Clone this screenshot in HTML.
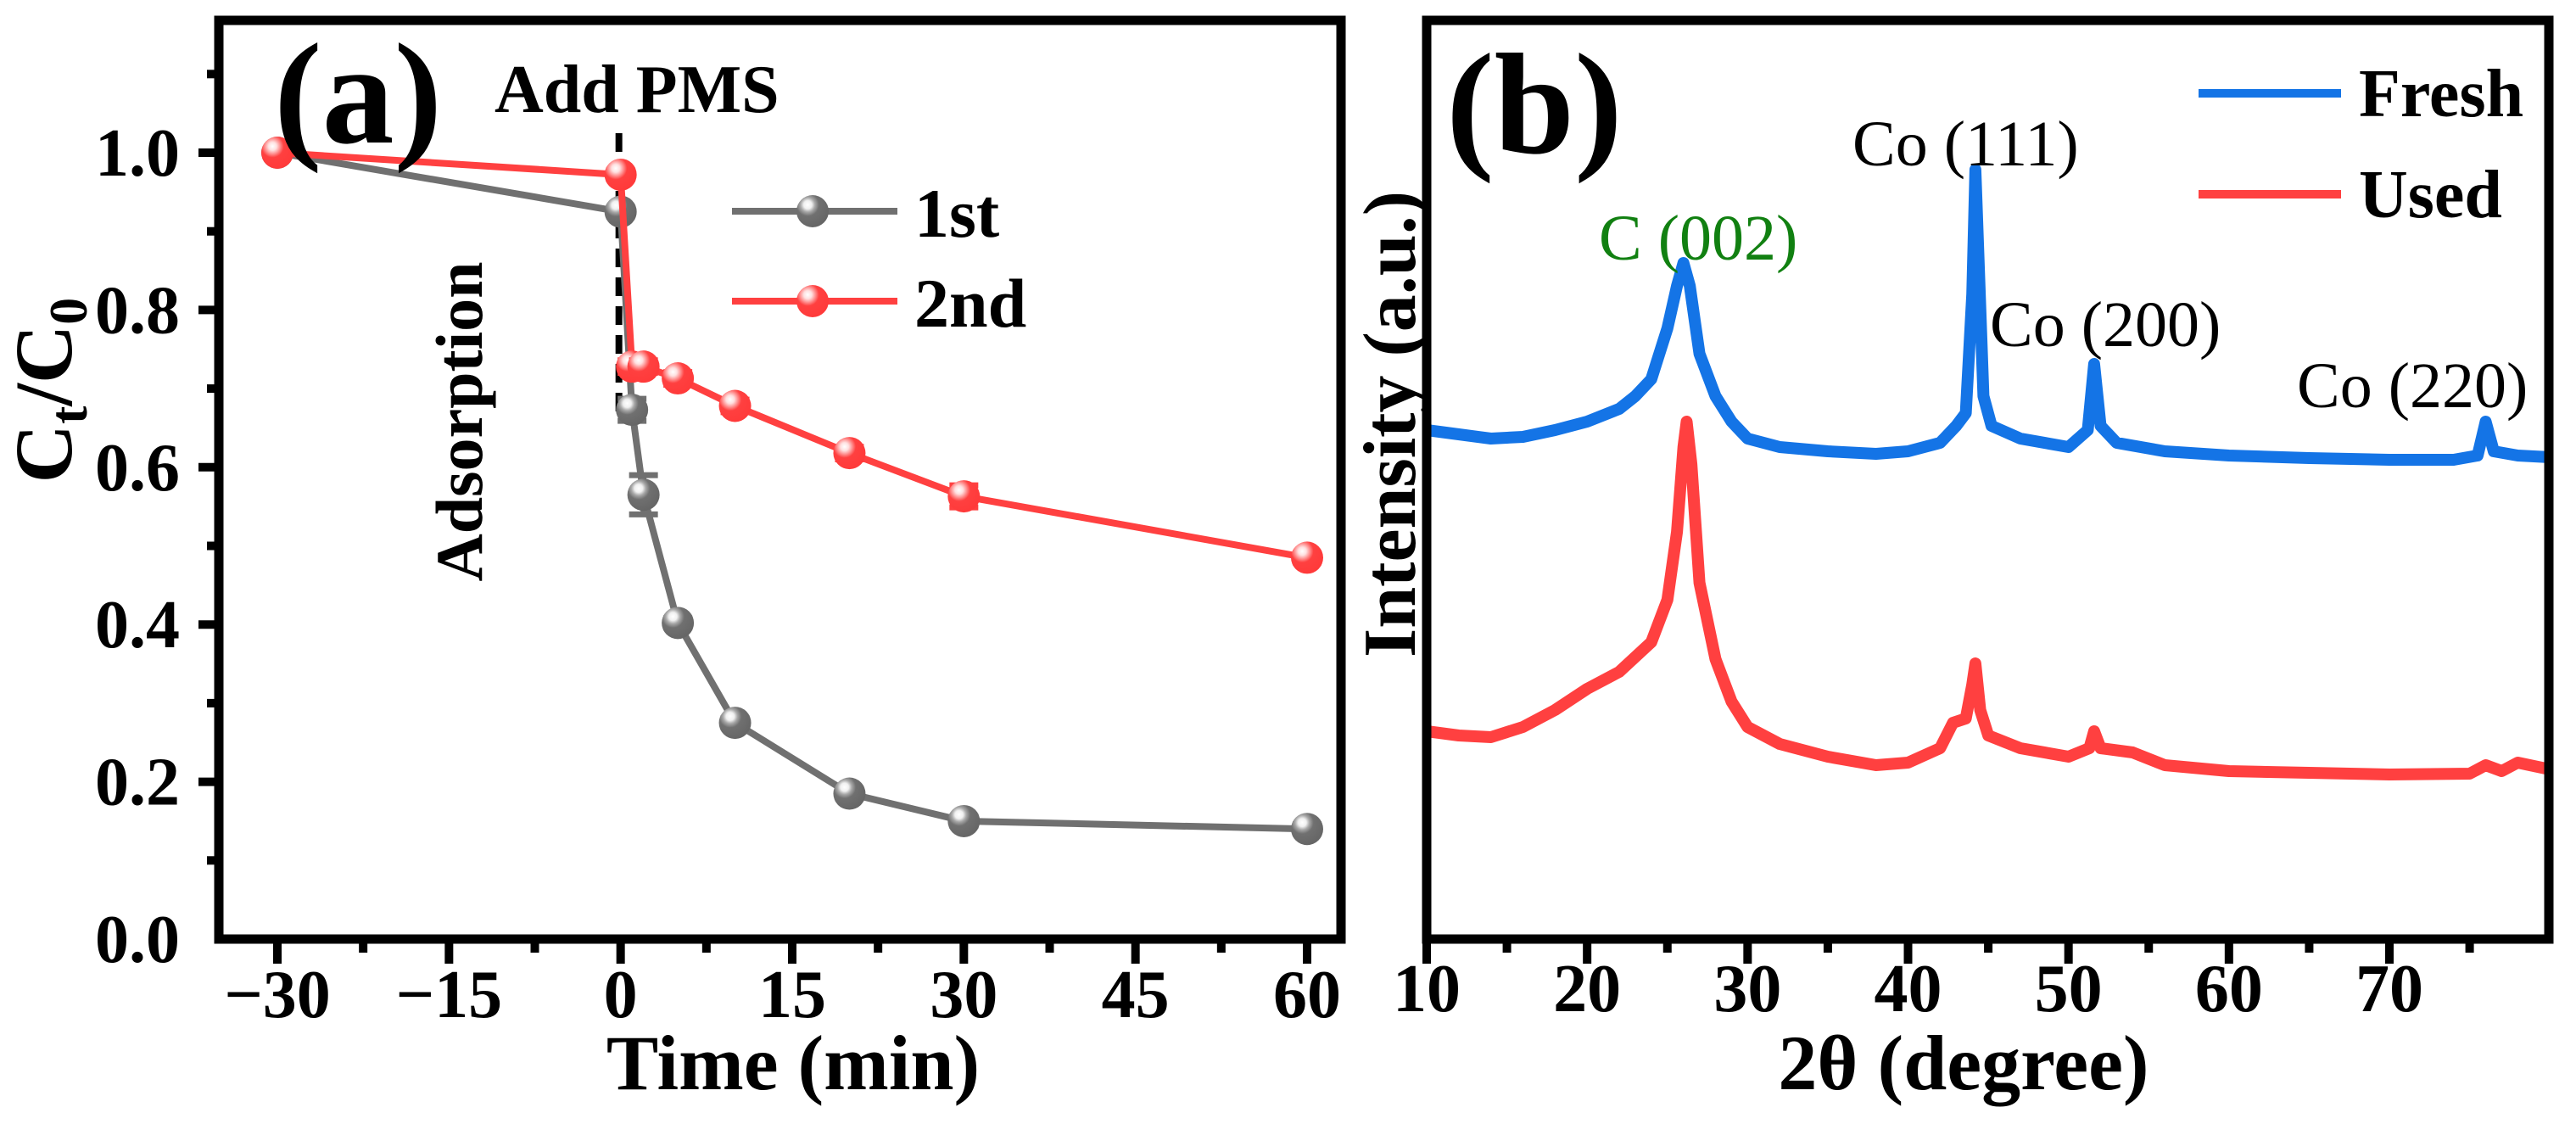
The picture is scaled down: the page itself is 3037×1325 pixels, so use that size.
<!DOCTYPE html>
<html><head><meta charset="utf-8"><style>
html,body{margin:0;padding:0;background:#fff;}
svg{display:block;font-family:"Liberation Serif",serif;}
</style></head><body>
<svg id="fig" width="3037" height="1325" viewBox="0 0 3037 1325" xmlns="http://www.w3.org/2000/svg">
<defs>
<radialGradient id="gGray" cx="0.35" cy="0.3" r="0.7"><stop offset="0" stop-color="#fff"/><stop offset="0.18" stop-color="#f0f0f0"/><stop offset="0.32" stop-color="#a8a8a8"/><stop offset="0.5" stop-color="#707070"/><stop offset="1" stop-color="#666"/></radialGradient>
<radialGradient id="gRed" cx="0.35" cy="0.3" r="0.7"><stop offset="0" stop-color="#fff"/><stop offset="0.18" stop-color="#ffe0e0"/><stop offset="0.32" stop-color="#ff9a9a"/><stop offset="0.5" stop-color="#ff4040"/><stop offset="1" stop-color="#ff3a3a"/></radialGradient>
</defs>
<g id="panelA"></g>
<g id="panelB"></g>
</svg>
<script>
// ---- Panel (a) data ----
const timeMin = [-30, 0, 1, 2, 5, 10, 20, 30, 60];
const run1 = [1.0, 0.925, 0.673, 0.565, 0.402, 0.275, 0.185, 0.150, 0.140];
const run1Err = [0.004, 0.006, 0.014, 0.025, 0.006, 0.006, 0.006, 0.006, 0.006];
const run2 = [1.0, 0.972, 0.728, 0.728, 0.713, 0.678, 0.618, 0.563, 0.485];
const run2Err = [0.004, 0.006, 0.008, 0.008, 0.008, 0.008, 0.008, 0.014, 0.006];
const xTicksA = [-30, -15, 0, 15, 30, 45, 60];
const yTicksA = [0.0, 0.2, 0.4, 0.6, 0.8, 1.0];
// ---- Panel (b) data: [2theta, intensity] ----
const freshTheta = [10,12,14,16,18,20,22,23,24,25,25.6,26.0,26.4,27,28,29,30,32,35,38,40,42,43,43.6,44.0,44.2,44.4,44.7,45.2,47,50,51.2,51.6,52.0,53,56,60,65,70,74,75.5,76,76.5,78,80];
const freshInt = [600,595,590,592,600,610,625,640,660,720,770,797,770,690,640,610,590,580,575,572,575,585,605,620,760,907,800,640,605,590,580,600,678,605,585,575,570,567,565,565,570,610,575,570,568];
const usedTheta = [10,12,14,16,18,20,22,24,25,25.6,26.0,26.2,26.5,27,28,29,30,32,35,38,40,42,42.8,43.6,44.0,44.2,44.5,45,47,50,51.3,51.6,52,54,56,60,65,70,75,76,77,78,80];
const usedInt = [245,240,238,250,270,295,315,350,400,480,580,610,560,420,330,280,250,230,215,205,208,225,255,260,300,325,270,240,225,215,225,245,225,220,205,198,196,194,195,205,198,208,200];
const xTicksB = [10, 20, 30, 40, 50, 60, 70];

const NS = "http://www.w3.org/2000/svg";
function mk(parent, tag, attrs, text){
  const e = document.createElementNS(NS, tag);
  for (const k in attrs) e.setAttribute(k, attrs[k]);
  if (text !== undefined) e.textContent = text;
  parent.appendChild(e); return e;
}
const AX = {l:258, r:1581, t:24, b:1107};
const xA = t => 327 + (t + 30) * (1541 - 327) / 90;
const yA = v => 1107 - v * 927;
const BX = {l:1682, r:3005, t:24, b:1107};
const xB = d => 1682 + (d - 10) * (2817 - 1682) / 60;
const yB = v => 1107 - v;

const pa = document.getElementById('panelA');
const pb = document.getElementById('panelB');

// ---------- Panel A ----------
for (let t = -37.5; t <= 65; t += 7.5) {
  const x = xA(t); if (x < AX.l + 4 || x > AX.r - 4) continue;
  const major = Math.abs(((t % 15) + 15) % 15) < 0.01;
  const tk = mk(pa, 'line', {x1:x, y1:AX.b, x2:x, y2:AX.b + (major ? 29 : 16), stroke:'#000', 'stroke-width':10});
  
  
}
for (let i = 1; i <= 11; i++) {
  const v = i / 10; const y = yA(v);
  const major = i % 2 === 0;
  const tk = mk(pa, 'line', {x1:AX.l, y1:y, x2:AX.l - (major ? 24 : 14), y2:y, stroke:'#000', 'stroke-width':10});
  
  
}
xTicksA.forEach(t => {
  const lab = mk(pa, 'text', {x:xA(t), y:1199, 'text-anchor':'middle', 'font-size':80, 'font-weight':'bold'}, t < 0 ? '\u2212' + Math.abs(t) : String(t));
  
  
});
yTicksA.forEach(v => {
  const lab = mk(pa, 'text', {x:212, y:yA(v) + 27, 'text-anchor':'end', 'font-size':80, 'font-weight':'bold'}, v.toFixed(1));
  
  
});
const dl = mk(pa, 'line', {x1:xA(0)-2, y1:157, x2:xA(0)-2, y2:490, stroke:'#000', 'stroke-width':8, 'stroke-dasharray':'22,12'});



function series(g, ys, errs, color, grad, name){
  const pts = timeMin.map((t,i) => xA(t) + ',' + yA(ys[i])).join(' ');
  const pl = mk(g, 'polyline', {points:pts, fill:'none', stroke:color, 'stroke-width':8, 'stroke-linejoin':'round'});
  
  
  timeMin.forEach((t,i) => {
    const x = xA(t), y1 = yA(ys[i] + errs[i]), y2 = yA(ys[i] - errs[i]);
    const eb = mk(g, 'path', {d:`M${x},${y1}V${y2}M${x-17},${y1}H${x+17}M${x-17},${y2}H${x+17}`, stroke:color, 'stroke-width':7, fill:'none'});
    
    
    const c = mk(g, 'circle', {cx:x, cy:yA(ys[i]), r:19, fill:'url(#' + grad + ')'});
    
    
  });
}
series(pa, run1, run1Err, '#707070', 'gGray', 'run-1st');
series(pa, run2, run2Err, '#ff4040', 'gRed', 'run-2nd');

const fa = mk(pa, 'rect', {x:AX.l, y:AX.t, width:AX.r-AX.l, height:AX.b-AX.t, fill:'none', stroke:'#000', 'stroke-width':11});



[['1st','#707070','gGray',249,'legend-1st'],['2nd','#ff4040','gRed',355,'legend-2nd']].forEach(L => {
  const g = mk(pa, 'g', {});
  
  
  mk(g, 'line', {x1:863, y1:L[3], x2:1058, y2:L[3], stroke:L[1], 'stroke-width':8});
  mk(g, 'circle', {cx:958, cy:L[3], r:19, fill:'url(#' + L[2] + ')'});
  mk(g, 'text', {x:1078, y:L[3] + 30, 'font-size':82, 'font-weight':'bold'}, L[0]);
});
const ta = mk(pa, 'text', {x:323, y:168, 'font-size':170, 'font-weight':'bold'}, '(a)');
 
const apms = mk(pa, 'text', {x:583, y:132, 'font-size':80, 'font-weight':'bold'}, 'Add PMS');
 
const ads = mk(pa, 'text', {x:0, y:0, 'font-size':78, 'font-weight':'bold', 'text-anchor':'middle', transform:'translate(568,497) rotate(-90)'}, 'Adsorption');
 
const xta = mk(pa, 'text', {x:935, y:1284, 'font-size':92, 'font-weight':'bold', 'text-anchor':'middle'}, 'Time (min)');
 
const yta = mk(pa, 'text', {x:0, y:0, 'font-size':96, 'font-weight':'bold', 'text-anchor':'middle', transform:'translate(84,460) rotate(-90)'});
 
mk(yta, 'tspan', {}, 'C');
mk(yta, 'tspan', {'font-size':64, dy:18}, 't');
mk(yta, 'tspan', {dy:-18}, '/C');
mk(yta, 'tspan', {'font-size':64, dy:18}, '0');

// ---------- Panel B ----------
for (let d = 15; d < 80; d += 5) {
  const x = xB(d); const major = d % 10 === 0;
  const tk = mk(pb, 'line', {x1:x, y1:BX.b, x2:x, y2:BX.b + (major ? 29 : 16), stroke:'#000', 'stroke-width':10});
  
  
}
const t10 = mk(pb, 'line', {x1:xB(10), y1:BX.b, x2:xB(10), y2:BX.b + 29, stroke:'#000', 'stroke-width':10});
 
xTicksB.forEach(d => {
  const lab = mk(pb, 'text', {x:xB(d), y:1192, 'text-anchor':'middle', 'font-size':80, 'font-weight':'bold'}, String(d));
  
  
});
function xrd(th, it, color, name){
  const d = th.map((t,i) => (i ? 'L' : 'M') + xB(t).toFixed(1) + ',' + yB(it[i]).toFixed(1)).join('');
  const p = mk(pb, 'path', {d:d, fill:'none', stroke:color, 'stroke-width':14, 'stroke-linejoin':'round'});
  
  
}
xrd(freshTheta, freshInt, '#1474e6', 'fresh-curve');
xrd(usedTheta, usedInt, '#ff4040', 'used-curve');
const fb = mk(pb, 'rect', {x:BX.l, y:BX.t, width:BX.r-BX.l, height:BX.b-BX.t, fill:'none', stroke:'#000', 'stroke-width':11});
 

[['Fresh','#1474e6',110,'legend-fresh'],['Used','#ff4040',229,'legend-used']].forEach(L => {
  const g = mk(pb, 'g', {});
  
  
  mk(g, 'line', {x1:2592, y1:L[2], x2:2760, y2:L[2], stroke:L[1], 'stroke-width':10});
  mk(g, 'text', {x:2781, y:L[2] + 27, 'font-size':80, 'font-weight':'bold'}, L[0]);
});
[['C (002)',1885,306,'#118011','peak-label-c002'],['Co (111)',2184,195,'#000','peak-label-co111'],['Co (200)',2346,408,'#000','peak-label-co200'],['Co (220)',2708,480,'#000','peak-label-co220']].forEach(P => {
  const t = mk(pb, 'text', {x:P[1], y:P[2], 'font-size':76, fill:P[3]}, P[0]);
  
  
});
const tb = mk(pb, 'text', {x:1705, y:180, 'font-size':170, 'font-weight':'bold'}, '(b)');
 
const xtb = mk(pb, 'text', {x:2315, y:1284, 'font-size':92, 'font-weight':'bold', 'text-anchor':'middle'}, '2\u03b8 (degree)');
 
const ytb = mk(pb, 'text', {x:0, y:0, 'font-size':88, 'font-weight':'bold', 'text-anchor':'middle', transform:'translate(1668,500) rotate(-90)'}, 'Intensity (a.u.)');
 
</script>
</body></html>
